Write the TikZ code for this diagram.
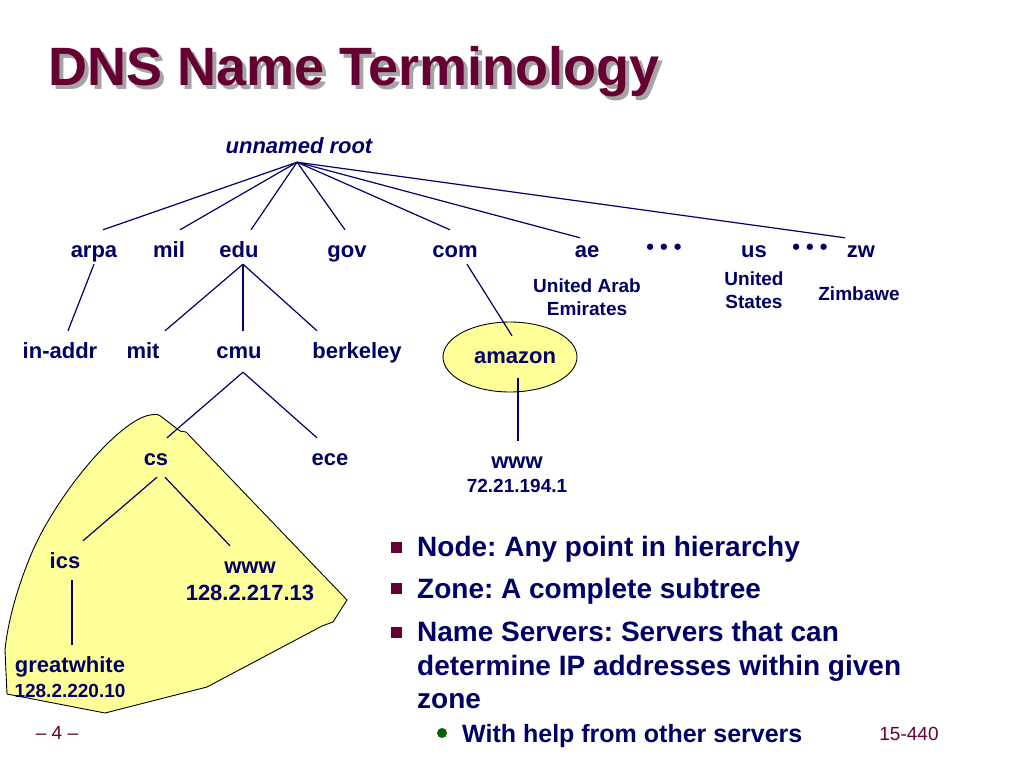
\documentclass[tikz,border=0pt]{standalone}
\usepackage{fontspec}
\setmainfont{Liberation Sans}
\usetikzlibrary{backgrounds}
\frenchspacing

\definecolor{slidenavy}{RGB}{0,0,102}
\definecolor{slidemaroon}{RGB}{102,0,51}
\definecolor{zoneyellow}{RGB}{255,255,153}
\definecolor{bulletgreen}{RGB}{0,102,0}
\definecolor{shadowgray}{RGB}{165,165,165}

\tikzset{
  dnsname/.style={font=\fontsize{22}{26}\selectfont\bfseries, text=slidenavy,
    text height=27pt, text depth=7pt, inner sep=0pt, anchor=base},
  dnsnote/.style={font=\fontsize{19}{23}\selectfont\bfseries, text=slidenavy,
    inner sep=0pt, anchor=base},
  treeedge/.style={draw=slidenavy, line width=1.2pt},
  zonefill/.style={fill=zoneyellow, draw=black, line width=0.9pt},
  bullettext/.style={font=\fontsize{28}{32}\selectfont\bfseries, text=slidenavy,
    inner sep=0pt, anchor=base west},
  subtext/.style={font=\fontsize{25}{30}\selectfont\bfseries, text=slidenavy,
    inner sep=0pt, anchor=base west},
  sqbullet/.style={rectangle, fill=slidemaroon, minimum size=11pt, inner sep=0pt},
  dotbullet/.style={circle, fill=bulletgreen, minimum size=10pt, inner sep=0pt},
  footer/.style={font=\fontsize{19}{23}\selectfont, text=slidemaroon, inner sep=0pt, anchor=base}
}

\begin{document}
\begin{tikzpicture}[x=1pt, y=-1pt]
\useasboundingbox (0,0) rectangle (1024,768);

% title with shadow
\node[font=\fontsize{54}{60}\selectfont\bfseries, text=shadowgray, inner sep=0pt, anchor=base west] (titleshadow) at (52,89) {DNS Name Terminology};
\node[font=\fontsize{54}{60}\selectfont\bfseries, text=slidemaroon, inner sep=0pt, anchor=base west] (title) at (48,85) {DNS Name Terminology};

% root and top level
\node[font=\fontsize{22}{26}\selectfont\bfseries\itshape, text=slidenavy, text depth=9pt, inner sep=0pt, anchor=base] (root) at (299,153) {unnamed root};
\node[dnsname] (arpa) at (94,257) {arpa};
\node[dnsname] (mil) at (169,257) {mil};
\node[dnsname] (edu) at (239,257) {edu};
\node[dnsname] (gov) at (347,257) {gov};
\node[dnsname] (com) at (455,257) {com};
\node[dnsname] (ae) at (587,257) {ae};
\node[dnsname] (dotsa) at (664,254) {• • •};
\node[dnsname] (us) at (754,257) {us};
\node[dnsname] (dotsb) at (810,254) {• • •};
\node[dnsname] (zw) at (861,257) {zw};

\node[dnsnote] (uaea) at (587,292) {United Arab};
\node[dnsnote] (uaeb) at (587,315) {Emirates};
\node[dnsnote] (usa) at (754,285) {United};
\node[dnsnote] (usb) at (754,308) {States};
\node[dnsnote] (zim) at (859,300) {Zimbawe};

% second level
\node[dnsname] (inaddr) at (60,358) {in-addr};
\node[dnsname] (mit) at (143,358) {mit};
\node[dnsname] (cmu) at (239,358) {cmu};
\node[dnsname] (berkeley) at (357,358) {berkeley};
\node[dnsname] (amazon) at (515,363) {amazon};
\node[dnsname] (wwwa) at (517,468) {www};
\node[dnsnote] (ipa) at (517,492) {72.21.194.1};

% cmu subtree
\node[dnsname] (cs) at (156,465) {cs};
\node[dnsname] (ece) at (330,465) {ece};
\node[dnsname] (ics) at (65,568) {ics};
\node[dnsname] (wwwb) at (250,573) {www};
\node[dnsname] (ipb) at (250,600) {128.2.217.13};
\node[dnsname] (greatwhite) at (70,672) {greatwhite};
\node[dnsnote] (ipc) at (70,697) {128.2.220.10};

% zone and amazon ellipse behind the labels
\begin{scope}[on background layer]
\fill[white] (0,0) rectangle (1024,768);
\draw[zonefill] (5,650) -- (7,694) -- (105,713) -- (207,687) -- (322,626) -- (333,622) -- (347,600)
  -- (186,432) -- (180,431) -- (163,418) .. controls (158,414) .. (150,415)
  .. controls (120,420) and (60,490) .. (33,550) .. controls (18,585) and (8,620) .. cycle;
\draw[zonefill] ([xshift=-5pt,yshift=-4pt]amazon.center) ellipse (67 and 35);
\end{scope}

% edges
\draw[treeedge] ([xshift=-2pt]root.south) -- ([xshift=9pt]arpa.north);
\draw[treeedge] ([xshift=-2pt]root.south) -- ([xshift=11pt]mil.north);
\draw[treeedge] ([xshift=-2pt]root.south) -- ([xshift=12pt]edu.north);
\draw[treeedge] ([xshift=-2pt]root.south) -- ([xshift=-2pt]gov.north);
\draw[treeedge] ([xshift=-2pt]root.south) -- ([xshift=-5pt]com.north);
\draw[treeedge] ([xshift=-2pt]root.south) -- ([xshift=-7pt,yshift=-8pt]ae.north);
\draw[treeedge] ([xshift=-2pt]root.south) -- ([xshift=-16pt,yshift=-8pt]zw.north);
\draw[treeedge] (arpa.south) -- ([xshift=8pt]inaddr.north);
\draw[treeedge] ([xshift=4pt]edu.south) -- ([xshift=22pt]mit.north);
\draw[treeedge] ([xshift=4pt]edu.south) -- ([xshift=4pt]cmu.north);
\draw[treeedge] ([xshift=4pt]edu.south) -- ([xshift=-40pt]berkeley.north);
\draw[treeedge] ([xshift=12pt]com.south) -- ([xshift=-3pt]amazon.north);
\draw[treeedge] ([xshift=3pt,yshift=-8pt]amazon.south) -- ([xshift=1pt]wwwa.north);
\draw[treeedge] ([xshift=4pt,yshift=-7pt]cmu.south) -- ([xshift=11pt]cs.north);
\draw[treeedge] ([xshift=4pt,yshift=-7pt]cmu.south) -- ([xshift=-13pt]ece.north);
\draw[treeedge] ([xshift=1pt,yshift=-5pt]cs.south) -- ([xshift=18pt]ics.north);
\draw[treeedge] ([xshift=9pt,yshift=-5pt]cs.south) -- ([xshift=-20pt]wwwb.north);
\draw[treeedge] ([xshift=7pt,yshift=-5pt]ics.south) -- ([xshift=2pt]greatwhite.north);

% bullets
\node[sqbullet] (sqa) at (396,547) {};
\node[bullettext] (pointa) at (417,556) {Node: Any point in hierarchy};
\node[sqbullet] (sqb) at (396,588) {};
\node[bullettext] (pointb) at (417,598) {Zone: A complete subtree};
\node[sqbullet] (sqc) at (396,632) {};
\node[bullettext] (pointc) at (417,641) {Name Servers: Servers that can};
\node[bullettext] (pointd) at (417,675) {determine IP addresses within given};
\node[bullettext] (pointe) at (417,708) {zone};
\node[dotbullet] (dota) at (442,733) {};
\node[subtext] (pointf) at (462,742) {With help from other servers};

% footer
\node[footer] (pagenum) at (57,739) {– 4 –};
\node[footer] (course) at (909,740) {15-440};
\end{tikzpicture}
\end{document}
